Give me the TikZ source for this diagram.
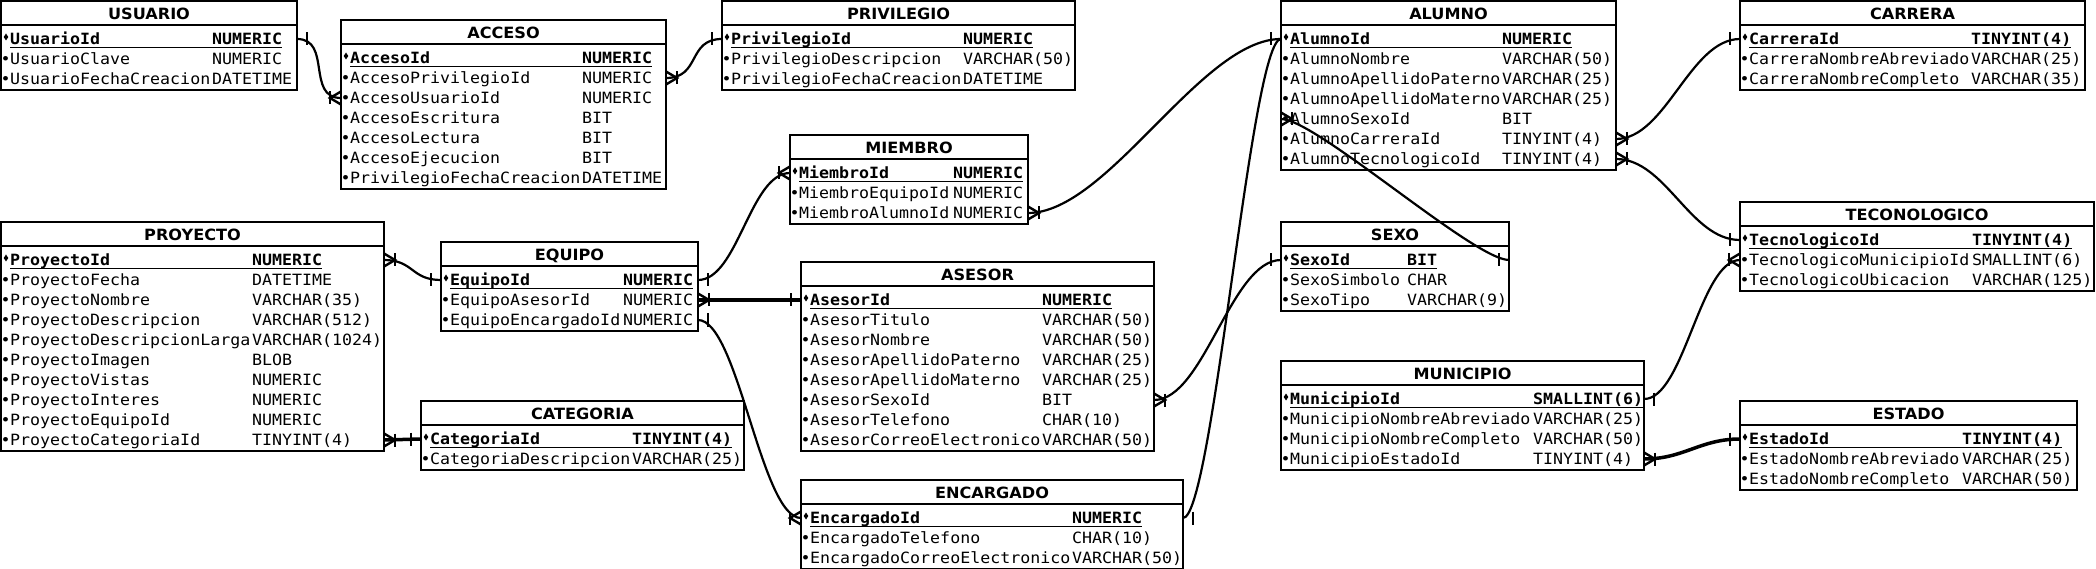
\documentclass[tikz,border=0pt]{standalone}
\usepackage{fontspec}
\newfontfamily\rowfont[FakeStretch=1.072]{DejaVu Sans Mono}
\newfontfamily\ttlfont[FakeStretch=1.04]{DejaVu Sans}
\tikzset{
  tbox/.style={draw, line width=2.2pt, inner sep=0pt, outer sep=0pt, fill=white},
  tline/.style={line width=2.2pt},
  ttitle/.style={font=\ttlfont\bfseries\fontsize{15.5}{16}\selectfont, inner sep=0pt, anchor=base},
  rowtx/.style={font=\rowfont\fontsize{15.5}{16}\selectfont, inner sep=0pt, anchor=base west},
  rowpk/.style={rowtx, font=\rowfont\bfseries\fontsize{15.5}{16}\selectfont},
  ulline/.style={line width=1pt},
  conn/.style={line width=2.2pt},
  heavyconn/.style={line width=3.5pt},
  mk/.style={line width=2.4pt},
}
% #1 id, #2 title, #3 x, #4 y (top, downward), #5 width, #6 type offset, #7 rows, #8 list
\newcommand\ertab[8]{%
  \node[tbox, minimum width=#5pt, minimum height={29pt+20pt*#7}, anchor=north west] (#1) at (#3,#4) {};
  \draw[tline] (#3,#4+24) -- (#3+#5,#4+24);
  \node[ttitle] (#1-title) at (#3+#5/2,#4+18.3) {#2};
  \foreach \nm/\ty [count=\i] in {#8}{%
    \pgfmathsetmacro\yc{#4+18+20*\i}
    \coordinate (#1-\i-L) at (#3,\yc);
    \coordinate (#1-\i-R) at (#3+#5,\yc);
    \ifnum\i=1\relax
      \fill (#3+5,\yc-5.5) -- (#3+7.3,\yc-2) -- (#3+5,\yc+1.5) -- (#3+2.7,\yc-2) -- cycle;
      \node[rowpk] (#1-\i-n) at (#3+9,\yc+5.6) {\nm};
      \node[rowpk] (#1-\i-t) at (#3+#6,\yc+5.6) {\ty};
      \draw[ulline] ([yshift=-2.5pt]#1-\i-n.base west) -- ([yshift=-2.5pt]#1-\i-t.base east);
    \else
      \node[rowtx] (#1-\i-b) at (#3-0.5,\yc+5.6) {•};
      \node[rowtx] (#1-\i-n) at (#3+9,\yc+5.6) {\nm};
      \node[rowtx] (#1-\i-t) at (#3+#6,\yc+5.6) {\ty};
    \fi
  }%
}
% markers: #1 coordinate name on box edge, #2 direction along which the marker sits (1 right, -1 left)
\newcommand\mkone[2]{%
  \draw[mk] ([xshift=#2*10pt,yshift=6.5pt]#1) -- ([xshift=#2*10pt,yshift=-6.5pt]#1);}
\newcommand\mkmany[2]{%
  \draw[mk] ([yshift=6.5pt]#1) -- ([xshift=#2*11pt]#1) -- ([yshift=-6.5pt]#1);
  \draw[mk] ([xshift=#2*11pt,yshift=6.5pt]#1) -- ([xshift=#2*11pt,yshift=-6.5pt]#1);}

\begin{document}
\begin{tikzpicture}[x=1pt,y=-1pt]
\fill[white] (0,0) rectangle (2096,569);
\useasboundingbox (0,0) rectangle (2096,569);

\ertab{USU}{USUARIO}{1}{1}{296}{211}{3}{UsuarioId/NUMERIC, UsuarioClave/NUMERIC, UsuarioFechaCreacion/DATETIME}
\ertab{ACC}{ACCESO}{341}{20}{325}{241}{7}{AccesoId/NUMERIC, AccesoPrivilegioId/NUMERIC, AccesoUsuarioId/NUMERIC, AccesoEscritura/BIT, AccesoLectura/BIT, AccesoEjecucion/BIT, PrivilegioFechaCreacion/DATETIME}
\ertab{PRI}{PRIVILEGIO}{722}{1}{353}{241}{3}{PrivilegioId/NUMERIC, PrivilegioDescripcion/VARCHAR(50), PrivilegioFechaCreacion/DATETIME}
\ertab{MIE}{MIEMBRO}{790}{135}{238}{163}{3}{MiembroId/NUMERIC, MiembroEquipoId/NUMERIC, MiembroAlumnoId/NUMERIC}
\ertab{ALU}{ALUMNO}{1281}{1}{335}{221}{7}{AlumnoId/NUMERIC, AlumnoNombre/VARCHAR(50), AlumnoApellidoPaterno/VARCHAR(25), AlumnoApellidoMaterno/VARCHAR(25), AlumnoSexoId/BIT, AlumnoCarreraId/TINYINT(4), AlumnoTecnologicoId/TINYINT(4)}
\ertab{CAR}{CARRERA}{1740}{1}{345}{231}{3}{CarreraId/TINYINT(4), CarreraNombreAbreviado/VARCHAR(25), CarreraNombreCompleto/VARCHAR(35)}
\ertab{PRO}{PROYECTO}{1}{222}{383}{251}{10}{ProyectoId/NUMERIC, ProyectoFecha/DATETIME, ProyectoNombre/VARCHAR(35), ProyectoDescripcion/VARCHAR(512), ProyectoDescripcionLarga/VARCHAR(1024), ProyectoImagen/BLOB, ProyectoVistas/NUMERIC, ProyectoInteres/NUMERIC, ProyectoEquipoId/NUMERIC, ProyectoCategoriaId/TINYINT(4)}
\ertab{EQU}{EQUIPO}{441}{242}{257}{182}{3}{EquipoId/NUMERIC, EquipoAsesorId/NUMERIC, EquipoEncargadoId/NUMERIC}
\ertab{ASE}{ASESOR}{801}{262}{353}{241}{8}{AsesorId/NUMERIC, AsesorTitulo/VARCHAR(50), AsesorNombre/VARCHAR(50), AsesorApellidoPaterno/VARCHAR(25), AsesorApellidoMaterno/VARCHAR(25), AsesorSexoId/BIT, AsesorTelefono/CHAR(10), AsesorCorreoElectronico/VARCHAR(50)}
\ertab{CAT}{CATEGORIA}{421}{401}{323}{211}{2}{CategoriaId/TINYINT(4), CategoriaDescripcion/VARCHAR(25)}
\ertab{ENC}{ENCARGADO}{801}{480}{382}{271}{3}{EncargadoId/NUMERIC, EncargadoTelefono/CHAR(10), EncargadoCorreoElectronico/VARCHAR(50)}
\ertab{SEX}{SEXO}{1281}{222}{228}{126}{3}{SexoId/BIT, SexoSimbolo/CHAR, SexoTipo/VARCHAR(9)}
\ertab{MUN}{MUNICIPIO}{1281}{361}{363}{252}{4}{MunicipioId/SMALLINT(6), MunicipioNombreAbreviado/VARCHAR(25), MunicipioNombreCompleto/VARCHAR(50), MunicipioEstadoId/TINYINT(4)}
\ertab{TEC}{TECONOLOGICO}{1740}{202}{354}{232}{3}{TecnologicoId/TINYINT(4), TecnologicoMunicipioId/SMALLINT(6), TecnologicoUbicacion/VARCHAR(125)}
\ertab{EST}{ESTADO}{1740}{401}{337}{222}{3}{EstadoId/TINYINT(4), EstadoNombreAbreviado/VARCHAR(25), EstadoNombreCompleto/VARCHAR(50)}

% the ALUMNO -> SEXO connector crosses over the ALUMNO table, markers sit inside the boxes
\draw[conn] (ALU-5-L) .. controls +(35,0) and +(-35,0) .. (SEX-1-R);
\mkmany{ALU-5-L}{1} \mkone{SEX-1-R}{-1}

\draw[conn] (USU-1-R) .. controls +(35,0) and +(-35,0) .. (ACC-3-L);
\mkone{USU-1-R}{1} \mkmany{ACC-3-L}{-1}

\draw[conn] (ACC-2-R) .. controls +(35,0) and +(-35,0) .. (PRI-1-L);
\mkmany{ACC-2-R}{1} \mkone{PRI-1-L}{-1}

\draw[conn] (EQU-1-R) .. controls +(40,0) and +(-40,0) .. (MIE-1-L);
\mkone{EQU-1-R}{1} \mkmany{MIE-1-L}{-1}

\draw[conn] (MIE-3-R) .. controls +(80,0) and +(-80,0) .. (ALU-1-L);
\mkmany{MIE-3-R}{1} \mkone{ALU-1-L}{-1}

\draw[conn] (PRO-1-R) .. controls +(30,0) and +(-30,0) .. (EQU-1-L);
\mkmany{PRO-1-R}{1} \mkone{EQU-1-L}{-1}

\draw[heavyconn] (PRO-10-R) -- (CAT-1-L);
\mkmany{PRO-10-R}{1} \mkone{CAT-1-L}{-1}

\draw[heavyconn] (EQU-2-R) -- (ASE-1-L);
\mkmany{EQU-2-R}{1} \mkone{ASE-1-L}{-1}

\draw[conn] (EQU-3-R) .. controls +(40,0) and +(-40,0) .. (ENC-1-L);
\mkone{EQU-3-R}{1} \mkmany{ENC-1-L}{-1}

\draw[conn] (ENC-1-R) .. controls +(30,0) and +(-30,0) .. (ALU-1-L);
\mkone{ENC-1-R}{1}

\draw[conn] (ASE-6-R) .. controls +(50,0) and +(-50,0) .. (SEX-1-L);
\mkmany{ASE-6-R}{1} \mkone{SEX-1-L}{-1}

\draw[conn] (ALU-6-R) .. controls +(50,0) and +(-50,0) .. (CAR-1-L);
\mkmany{ALU-6-R}{1} \mkone{CAR-1-L}{-1}

\draw[conn] (ALU-7-R) .. controls +(50,0) and +(-50,0) .. (TEC-1-L);
\mkmany{ALU-7-R}{1} \mkone{TEC-1-L}{-1}

\draw[conn] (MUN-1-R) .. controls +(40,0) and +(-40,0) .. (TEC-2-L);
\mkone{MUN-1-R}{1} \mkmany{TEC-2-L}{-1}

\draw[heavyconn] (MUN-4-R) .. controls +(40,0) and +(-40,0) .. (EST-1-L);
\mkmany{MUN-4-R}{1} \mkone{EST-1-L}{-1}
\end{tikzpicture}
\end{document}
